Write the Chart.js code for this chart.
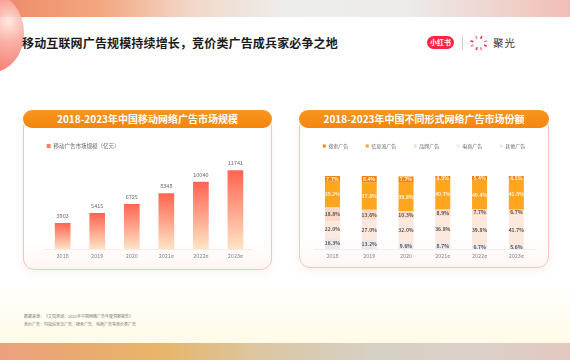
<!DOCTYPE html>
<html><head><meta charset="utf-8">
<script src="https://cdn.jsdelivr.net/npm/chart.js@4.4.1/dist/chart.umd.min.js"></script>
<style>
html,body{margin:0;padding:0;width:570px;height:360px;overflow:hidden;background:#fff;}
#root{position:relative;width:570px;height:360px;overflow:hidden;background:#fff;font-family:"Noto Sans CJK SC","Noto Sans",sans-serif;}
.a{position:absolute;}
#topband{left:0;top:0;width:570px;height:17px;background:linear-gradient(90deg,#ee8a66 0%,#f2a882 18%,#f3d6c6 33%,#ededec 50%,#ecebea 72%,#f0d2cc 88%,#f2bdb6 100%);}
#blob{left:-38px;top:-6px;width:62px;height:78px;border-radius:50%;background:radial-gradient(ellipse at 75% 35%,#ffe6e0 0%,#f9a79c 30%,#f57a70 65%,#f26a66 100%);opacity:.9;}
#wash{left:0;top:280px;width:570px;height:63px;background:linear-gradient(180deg,rgba(255,252,232,0) 0%,#fffbe8 100%);}
#botband{left:0;top:343px;width:570px;height:17px;background:linear-gradient(90deg,#eca07e 0%,#e9ab70 15%,#e7b568 28%,#dcc6a0 45%,#d6d0c4 65%,#dcd0c8 85%,#e2c8c0 100%);}
#title{left:22px;top:34px;font-size:12px;font-weight:700;color:#1b1b1b;white-space:nowrap;letter-spacing:0.15px;line-height:17px;}
#xhs{left:427px;top:36px;width:27px;height:13px;border-radius:7px;background:#ff2442;color:#fff;font-size:7px;font-weight:700;text-align:center;line-height:13px;}
#sep{left:462px;top:36px;width:1px;height:14px;background:#cfcfcf;}
#jg{left:493px;top:35px;font-size:10.5px;color:#333;line-height:15px;letter-spacing:1px;}
.card{border:1px solid #f7c3ba;border-radius:11px;background:linear-gradient(180deg,#ffffff 0%,#ffffff 80%,#fff6f3 100%);box-shadow:0 3px 8px rgba(230,140,120,0.12);}
.head{height:18px;border-radius:9px;background:linear-gradient(180deg,#f9961f 0%,#f5850c 100%);color:#fff;font-size:10px;font-weight:700;text-align:center;line-height:18px;white-space:nowrap;}
.foot{left:24px;font-size:4px;color:#777;white-space:nowrap;line-height:5px;}
canvas{position:absolute;}
</style>
</head><body><div id="root">
<div id="wash" class="a"></div>
<div id="topband" class="a"></div>
<div id="blob" class="a"></div>
<div id="botband" class="a"></div>
<div id="title" class="a">移动互联网广告规模持续增长，竞价类广告成兵家必争之地</div>
<div id="xhs" class="a">小红书</div>
<div id="sep" class="a"></div>
<svg class="a" style="left:469px;top:35px" width="20" height="16" viewBox="0 0 20 16">
<g stroke-linecap="round" stroke-width="1.6">
<line x1="7" y1="1.5" x2="7.6" y2="3.2" stroke="#f8859a"/>
<line x1="12.6" y1="1.5" x2="12" y2="3.2" stroke="#f5334f"/>
<line x1="2" y1="6" x2="3.8" y2="6.6" stroke="#f5334f"/>
<line x1="17.6" y1="6" x2="15.8" y2="6.6" stroke="#f8859a"/>
<line x1="2.4" y1="11" x2="4" y2="10.2" stroke="#f8859a"/>
<line x1="17.2" y1="11" x2="15.6" y2="10.2" stroke="#f5334f"/>
<line x1="7.4" y1="14.4" x2="8" y2="12.8" stroke="#f5334f"/>
<line x1="12.2" y1="14.4" x2="11.6" y2="12.8" stroke="#f8859a"/>
</g></svg>
<div id="jg" class="a">聚光</div>

<div class="a card" style="left:23px;top:116px;width:247px;height:152px;"></div>
<div class="a head" style="left:23px;top:110px;width:249px;">2018-2023年中国移动网络广告市场规模</div>
<div class="a card" style="left:299px;top:116px;width:248px;height:150px;"></div>
<div class="a head" style="left:299px;top:110px;width:250px;">2018-2023年中国不同形式网络广告市场份额</div>

<canvas id="c1" width="247" height="138" style="left:25px;top:130px;"></canvas>
<canvas id="c2" width="250" height="148" style="left:299px;top:120px;"></canvas>

<div class="a foot" style="top:314px;">数据来源：《艾瑞咨询：2021年中国网络广告年度洞察报告》</div>
<div class="a foot" style="top:322px;">竞价广告：特指信息流广告、搜索广告、电商广告等竞价类广告</div>
</div>
<script>
// ---- data ----
const years = ['2018', '2019', '2020', '2021e', '2022e', '2023e'];
const marketSize = [3903, 5415, 6725, 8348, 10040, 11741];
const marketSizeLabel = '移动广告市场规模（亿元）';
const shareNames = ['搜索广告', '信息流广告', '品牌广告', '电商广告', '其他广告'];
const searchShare = [7.7, 8.4, 7.7, 4.9, 5.4, 4.5];
const feedShare = [35.2, 37.8, 39.8, 40.7, 40.4, 41.5];
const brandShare = [18.8, 13.6, 10.3, 8.9, 7.7, 6.7];
const ecomShare = [22.0, 27.0, 32.0, 36.8, 39.8, 41.7];
const otherShare = [16.3, 13.2, 9.6, 8.7, 6.7, 5.6];

const FONT = '"Noto Sans CJK SC","Noto Sans",sans-serif';

// ---- left chart ----
const valueLabels = {
  id: 'valueLabels',
  afterDatasetsDraw(chart) {
    const c = chart.ctx;
    const meta = chart.getDatasetMeta(0);
    c.save();
    c.font = '5.5px ' + FONT;
    c.fillStyle = '#6a6a6a';
    c.textAlign = 'center';
    c.textBaseline = 'middle';
    meta.data.forEach((el, i) => {
      c.fillText(String(chart.data.datasets[0].data[i]), el.x, el.y - 7);
    });
    c.restore();
  }
};

new Chart(document.getElementById('c1'), {
  type: 'bar',
  data: {
    labels: years,
    datasets: [{
      label: marketSizeLabel,
      data: marketSize,
      borderWidth: 0,
      barPercentage: 0.4545,
      categoryPercentage: 1,
      backgroundColor: (ctx) => {
        const chart = ctx.chart;
        const area = chart.chartArea;
        if (!area || ctx.type !== 'data' || !chart.scales.y) return '#ff7b5f';
        const yTop = chart.scales.y.getPixelForValue(ctx.raw);
        const g = chart.ctx.createLinearGradient(0, yTop, 0, area.bottom);
        g.addColorStop(0, '#fe6450');
        g.addColorStop(1, '#ffe4c6');
        return g;
      }
    }]
  },
  options: {
    responsive: false, animation: false, devicePixelRatio: 1,
    layout: {padding: {left: 15.7, right: 19.3, top: 7.25, bottom: 6.6}},
    plugins: {
      tooltip: {enabled: false},
      legend: {
        display: true, position: 'top', align: 'start',
        labels: {
          boxWidth: 4, boxHeight: 4, padding: 6,
          font: {size: 5.5, family: FONT}, color: '#666',
          generateLabels: (chart) => [{
            text: chart.data.datasets[0].label, fillStyle: '#ff8466',
            strokeStyle: 'rgba(0,0,0,0)', lineWidth: 0, hidden: false,
            datasetIndex: 0, fontColor: '#666'
          }]
        }
      }
    },
    scales: {
      x: {
        grid: {display: false, drawTicks: false},
        border: {display: true, color: '#efefef'},
        ticks: {font: {size: 5.5, family: FONT}, color: '#888', padding: 3},
        afterFit: (s) => { s.height = 12; }
      },
      y: {
        min: 0, max: 13455, display: true,
        grid: {display: false, drawTicks: false},
        border: {display: false},
        ticks: {display: false},
        afterFit: (s) => { s.width = 4.7; }
      }
    }
  },
  plugins: [valueLabels]
});

// ---- right chart ----
const segLabels = {
  id: 'segLabels',
  afterDatasetsDraw(chart) {
    const c = chart.ctx;
    c.save();
    c.font = '600 5px ' + FONT;
    c.textAlign = 'center';
    c.textBaseline = 'middle';
    chart.data.datasets.forEach((ds, i) => {
      const meta = chart.getDatasetMeta(i);
      c.fillStyle = ds.labelColor;
      meta.data.forEach((el, j) => {
        const v = ds.data[j];
        c.fillText(v.toFixed(1) + '%', el.x, (el.y + el.base) / 2);
      });
    });
    c.restore();
  }
};

const common = {borderWidth: 0, barPercentage: 0.408, categoryPercentage: 1};
new Chart(document.getElementById('c2'), {
  type: 'bar',
  data: {
    labels: years,
    datasets: [
      Object.assign({label: shareNames[4], data: otherShare, backgroundColor: '#ebe8ec', labelColor: '#555'}, common),
      Object.assign({label: shareNames[3], data: ecomShare, backgroundColor: '#fde8de', labelColor: '#555'}, common),
      Object.assign({label: shareNames[2], data: brandShare, backgroundColor: '#fcd9c6', labelColor: '#555'}, common),
      Object.assign({label: shareNames[1], data: feedShare, backgroundColor: '#ffa51e', labelColor: '#fff3e0'}, common),
      Object.assign({label: shareNames[0], data: searchShare, backgroundColor: '#f7840b', labelColor: '#fff3e0'}, common)
    ]
  },
  options: {
    responsive: false, animation: false, devicePixelRatio: 1,
    layout: {padding: {left: 0, right: 0, top: 6, bottom: 6.7}},
    plugins: {
      tooltip: {enabled: false},
      legend: {
        display: true, position: 'top', align: 'center', reverse: true,
        labels: {boxWidth: 3, boxHeight: 3, padding: 17.5, font: {size: 5, family: FONT}, color: '#666'}
      }
    },
    scales: {
      x: {
        stacked: true,
        grid: {display: false, drawTicks: false},
        border: {display: true, color: '#efefef'},
        ticks: {font: {size: 5.5, family: FONT}, color: '#888', padding: 3},
        afterFit: (s) => { s.height = 12; }
      },
      y: {
        stacked: true, min: 0, max: 123.9, display: true,
        grid: {display: false, drawTicks: false},
        border: {display: false},
        ticks: {display: false},
        afterFit: (s) => { s.width = 15.1; }
      },
      y2: {
        position: 'right', display: true,
        grid: {display: false, drawTicks: false},
        border: {display: false},
        ticks: {display: false},
        afterFit: (s) => { s.width = 14.3; }
      }
    }
  },
  plugins: [segLabels]
});
</script>
</body></html>
